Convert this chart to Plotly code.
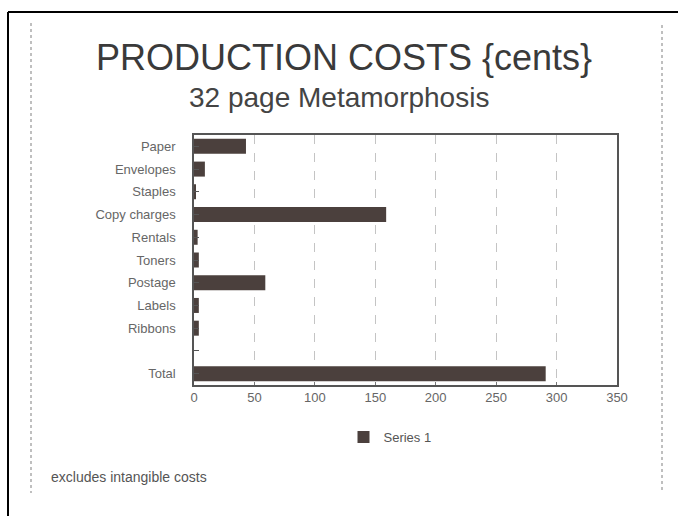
import plotly.graph_objects as go

categories = ["Paper", "Envelopes", "Staples", "Copy charges", "Rentals", "Toners",
              "Postage", "Labels", "Ribbons", " ", "Total"]
values = [43, 9, 1, 159, 3, 4, 59, 4, 4, None, 291]
x_ticks = [0, 50, 100, 150, 200, 250, 300, 350]
series_name = "Series 1"
title_text = "PRODUCTION COSTS {cents}"
subtitle_text = "32 page Metamorphosis"
footnote_text = "excludes intangible costs"

W, H = 678, 516
L, R, T, B = 194, 617, 135, 385


def px(x):
    return (x - L) / (R - L)


def py(y):
    return (B - y) / (B - T)


FONT = "Liberation Sans, Arial, sans-serif"

fig = go.Figure()
fig.add_trace(go.Bar(
    y=categories, x=values, orientation="h", name=series_name,
    marker=dict(color="#4b403d", line=dict(width=0)),
    width=0.66, showlegend=True,
))

fig.update_layout(
    width=W, height=H,
    margin=dict(l=L, r=W - R, t=T, b=H - B),
    paper_bgcolor="white", plot_bgcolor="white",
    font=dict(family=FONT, color="#555"),
    showlegend=True,
    legend=dict(orientation="h", x=px(390), y=py(437), xanchor="center", yanchor="middle",
                font=dict(size=13, color="#555"), bgcolor="rgba(0,0,0,0)"),
    xaxis=dict(range=[0, 350], tickvals=x_ticks, showgrid=True, gridcolor="#c4c4c4",
               griddash="dash", gridwidth=1, zeroline=False,
               showline=True, linecolor="#555", linewidth=1.5, mirror=True,
               ticks="inside", ticklen=3, tickcolor="#777",
               tickfont=dict(size=13, color="#666")),
    yaxis=dict(categoryorder="array", categoryarray=categories, autorange="reversed",
               showgrid=False, zeroline=False,
               showline=True, linecolor="#555", linewidth=1.5, mirror=True,
               ticks="inside", ticklen=5, tickcolor="#555", ticklabelstandoff=14,
               tickfont=dict(size=13, color="#666")),
    bargap=0.3,
)

annotations = [
    dict(text=title_text, x=px(344), y=py(58), font=dict(size=36, color="#3a3a3a")),
    dict(text=subtitle_text, x=px(339), y=py(97), font=dict(size=28, color="#444")),
]
for a in annotations:
    a.update(xref="paper", yref="paper", showarrow=False, xanchor="center", yanchor="middle")
    fig.add_annotation(**a)
fig.add_annotation(text=footnote_text, xref="paper", yref="paper", x=px(49), y=py(477),
                   xanchor="left", yanchor="middle", showarrow=False,
                   font=dict(size=14, color="#555"))

# page frame and faint photocopy edges
shapes = [
    dict(x0=px(8), x1=px(8), y0=py(12), y1=py(520), line=dict(color="black", width=2)),
    dict(x0=px(8), x1=px(680), y0=py(12), y1=py(12), line=dict(color="black", width=2)),
    dict(x0=px(31), x1=px(31), y0=py(23), y1=py(493), line=dict(color="#aaa", width=1.5, dash="dot")),
    dict(x0=px(662), x1=px(662), y0=py(25), y1=py(493), line=dict(color="#aaa", width=1.5, dash="dot")),
]
for s in shapes:
    fig.add_shape(type="line", xref="paper", yref="paper", **s)

fig.write_html("out.html")
